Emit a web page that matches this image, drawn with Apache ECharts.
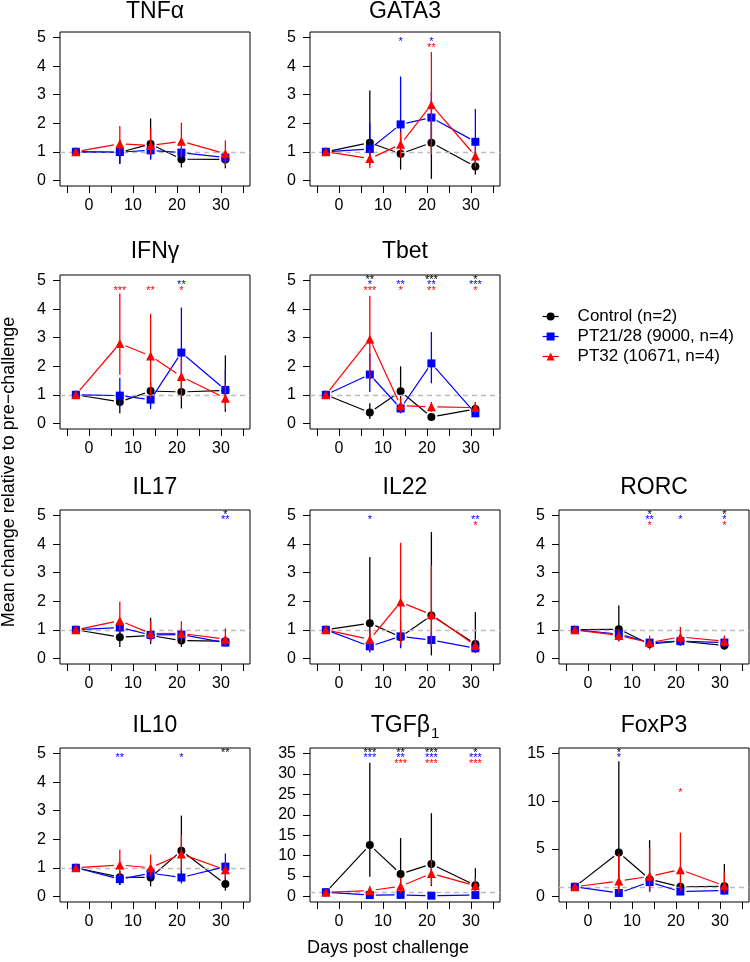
<!DOCTYPE html>
<html><head><meta charset="utf-8">
<script src="https://cdn.jsdelivr.net/npm/echarts@6/dist/echarts.min.js"></script>
<style>html,body{margin:0;padding:0;background:#fff}#c{width:750px;height:962px}</style>
</head><body><div id="c"></div>
<script>
// ---------------- DATA ----------------
const days = [-3, 7, 14, 21, 31];
const xTicks = [-5, 0, 5, 10, 15, 20, 25, 30, 35];
const xLabels = [0, 10, 20, 30];
const yTicks5 = [0, 1, 2, 3, 4, 5];
const yTicksTGF = [0, 5, 10, 15, 20, 25, 30, 35];
const yTicksFox = [0, 5, 10, 15];
const groupNames = ['Control (n=2)', 'PT21/28 (9000, n=4)', 'PT32 (10671, n=4)'];
const panelNames = ['TNFα', 'GATA3', 'IFNγ', 'Tbet', 'IL17', 'IL22', 'RORC', 'IL10', 'TGFβ1', 'FoxP3'];
const refLevel = 1;

// [mean, lower, upper] at each day
const TNFa_ctrl   = [[1,1,1],[0.98,0.57,1.40],[1.27,0.75,2.17],[0.74,0.45,1.02],[0.73,0.42,1.00]];
const TNFa_pt2128 = [[1,1,1],[0.99,0.60,1.35],[1.05,0.72,1.38],[0.97,0.75,1.20],[0.80,0.60,1.00]];
const TNFa_pt32   = [[1,1,1],[1.28,0.90,1.90],[1.22,0.90,1.80],[1.37,0.80,2.02],[0.93,0.50,1.40]];

const GATA3_ctrl   = [[1,1,1],[1.32,0.55,3.15],[0.93,0.37,1.50],[1.32,0.05,2.30],[0.48,0.20,0.80]];
const GATA3_pt2128 = [[1,1,1],[1.10,0.80,2.00],[1.96,0.90,3.64],[2.20,1.30,3.10],[1.35,0.60,2.50]];
const GATA3_pt32   = [[1,1,1],[0.76,0.42,1.05],[1.26,0.80,1.70],[2.65,0.90,4.50],[0.85,0.45,1.20]];

const IFNg_ctrl   = [[1,1,1],[0.75,0.35,1.00],[1.13,0.85,1.42],[1.10,0.52,1.60],[1.15,0.40,2.38]];
const IFNg_pt2128 = [[1,1,1],[0.97,0.60,1.60],[0.83,0.50,1.10],[2.48,1.50,4.06],[1.17,0.90,1.90]];
const IFNg_pt32   = [[1,1,1],[2.80,1.70,4.55],[2.36,0.90,3.84],[1.64,0.90,2.30],[0.88,0.50,1.40]];

const Tbet_ctrl   = [[1,1,1],[0.38,0.15,0.70],[1.12,0.50,2.00],[0.22,0.10,0.35],[0.50,0.30,0.70]];
const Tbet_pt2128 = [[1,1,1],[1.71,1.10,2.45],[0.52,0.35,0.70],[2.10,1.40,3.20],[0.35,0.25,0.50]];
const Tbet_pt32   = [[1,1,1],[2.95,1.50,4.47],[0.62,0.40,0.90],[0.58,0.40,0.75],[0.55,0.35,0.75]];

const IL17_ctrl   = [[1,1,1],[0.74,0.40,1.00],[0.80,0.50,1.42],[0.62,0.40,0.85],[0.60,0.45,0.75]];
const IL17_pt2128 = [[1,1,1],[1.08,0.80,1.35],[0.82,0.60,1.05],[0.83,0.60,1.05],[0.55,0.40,0.70]];
const IL17_pt32   = [[1,1,1],[1.32,0.90,1.98],[0.87,0.60,1.30],[0.87,0.55,1.30],[0.67,0.40,1.05]];

const IL22_ctrl   = [[1,1,1],[1.23,0.50,3.55],[0.75,0.40,1.00],[1.50,0.10,4.43],[0.50,0.20,1.62]];
const IL22_pt2128 = [[1,1,1],[0.42,0.20,0.65],[0.77,0.35,1.30],[0.64,0.40,0.90],[0.35,0.20,0.50]];
const IL22_pt32   = [[1,1,1],[0.66,0.30,1.00],[1.97,0.50,4.05],[1.53,0.40,3.27],[0.45,0.25,0.70]];

const RORC_ctrl   = [[1,1,1],[1.02,0.60,1.85],[0.50,0.35,0.65],[0.60,0.45,0.75],[0.45,0.30,0.60]];
const RORC_pt2128 = [[1,1,1],[0.85,0.70,1.00],[0.55,0.40,0.70],[0.60,0.45,0.80],[0.55,0.40,0.70]];
const RORC_pt32   = [[1,1,1],[0.80,0.60,1.00],[0.55,0.30,0.80],[0.75,0.50,1.10],[0.60,0.40,0.80]];

const IL10_ctrl   = [[1,1,1],[0.67,0.40,0.90],[0.66,0.35,0.90],[1.60,0.80,2.83],[0.43,0.20,0.65]];
const IL10_pt2128 = [[1,0.88,1.12],[0.60,0.40,0.80],[0.81,0.60,1.00],[0.66,0.45,0.95],[1.04,0.60,1.50]];
const IL10_pt32   = [[1,1,1],[1.10,0.70,1.63],[1.00,0.70,1.47],[1.48,0.90,2.15],[0.93,0.60,1.20]];

const TGFb1_ctrl   = [[1,1,1],[12.6,4.8,32.8],[5.5,1.5,14.3],[7.9,2.5,20.4],[2.7,0.5,6.9]];
const TGFb1_pt2128 = [[1,1,1],[0.3,0.1,0.6],[0.35,0.1,0.7],[0.15,0.05,0.3],[0.3,0.1,0.5]];
const TGFb1_pt32   = [[1,1,1],[1.4,0.5,2.5],[2.45,0.8,4.5],[5.6,2.8,9.0],[2.6,1.0,4.5]];

const FoxP3_ctrl   = [[1,1,1],[4.6,0.1,14.2],[1.8,0.5,5.9],[1.0,0.5,1.5],[1.05,0.3,3.4]];
const FoxP3_pt2128 = [[1,1,1],[0.35,0.1,0.6],[1.5,0.5,2.5],[0.5,0.2,0.8],[0.6,0.2,1.0]];
const FoxP3_pt32   = [[1,1,1],[1.6,0.3,4.5],[2.1,0.5,5.1],[2.8,0.6,6.7],[1.1,0.4,2.5]];

// significance stars: [day, group(0 ctrl,1 PT21/28,2 PT32), text, optional explicit y]
const TNFa_stars = [];
const GATA3_stars = [[14,1,'*'],[21,1,'*'],[21,2,'**']];
const IFNg_stars = [[7,2,'***'],[14,2,'**'],[21,1,'**'],[21,2,'*']];
const Tbet_stars = [[7,0,'**'],[7,1,'*'],[7,2,'***'],[14,1,'**'],[14,2,'*'],[21,0,'***'],[21,1,'**'],[21,2,'**'],[31,0,'*'],[31,1,'***'],[31,2,'*']];
const IL17_stars = [[31,0,'*'],[31,1,'**']];
const IL22_stars = [[7,1,'*'],[31,1,'**'],[31,2,'*']];
const RORC_stars = [[14,0,'*'],[14,1,'**'],[14,2,'*'],[21,1,'*'],[31,0,'*'],[31,1,'*'],[31,2,'*']];
const IL10_stars = [[7,1,'**'],[21,1,'*'],[31,0,'**']];
const TGFb1_stars = [[7,0,'***'],[7,1,'***'],[14,0,'**'],[14,1,'**'],[14,2,'***'],[21,0,'***'],[21,1,'***'],[21,2,'***'],[31,0,'*'],[31,1,'***'],[31,2,'***']];
const FoxP3_stars = [[7,0,'*'],[7,1,'*'],[21,2,'*',11.2]];

// ---------------- BUILD ----------------
const panelSeries = [
  [TNFa_ctrl, TNFa_pt2128, TNFa_pt32, TNFa_stars, yTicks5],
  [GATA3_ctrl, GATA3_pt2128, GATA3_pt32, GATA3_stars, yTicks5],
  [IFNg_ctrl, IFNg_pt2128, IFNg_pt32, IFNg_stars, yTicks5],
  [Tbet_ctrl, Tbet_pt2128, Tbet_pt32, Tbet_stars, yTicks5],
  [IL17_ctrl, IL17_pt2128, IL17_pt32, IL17_stars, yTicks5],
  [IL22_ctrl, IL22_pt2128, IL22_pt32, IL22_stars, yTicks5],
  [RORC_ctrl, RORC_pt2128, RORC_pt32, RORC_stars, yTicks5],
  [IL10_ctrl, IL10_pt2128, IL10_pt32, IL10_stars, yTicks5],
  [TGFb1_ctrl, TGFb1_pt2128, TGFb1_pt32, TGFb1_stars, yTicksTGF],
  [FoxP3_ctrl, FoxP3_pt2128, FoxP3_pt32, FoxP3_stars, yTicksFox]
];

const FONT = '"Liberation Sans", Arial, Helvetica, sans-serif';
const colors = ['#000000', '#0000ff', '#ff0000'];
const symbols = ['circle', 'rect', 'triangle'];
const symSizes = [8, 8, 9];
const starFactor = [1.024, 0.988, 0.946];
const GAP = 6; // R type="b" gap around points

const colLeft = [60, 310, 559];
const rowTop = [32, 275, 510, 748];
const titleY = [12, 252, 488, 726];
const boxW = 190, boxH = 154;
const cellPos = [[0,0],[0,1],[1,0],[1,1],[2,0],[2,1],[2,2],[3,0],[3,1],[3,2]];

const grids = [], xAxes = [], yAxes = [], series = [], graphics = [];

panelSeries.forEach((p, i) => {
  const [r, c] = cellPos[i];
  const yT = p[4];
  const ymax = yT[yT.length - 1];
  grids.push({left: colLeft[c], top: rowTop[r], width: boxW, height: boxH,
    show: true, borderColor: '#000', borderWidth: 1, backgroundColor: 'transparent', containLabel: false});
  xAxes.push({type: 'value', gridIndex: i, min: -6.6, max: 36.6, position: 'bottom',
    axisLine: {show: false, onZero: false}, splitLine: {show: false},
    axisTick: {show: true, inside: false, customValues: xTicks, length: 7, lineStyle: {color: '#000', width: 1}},
    axisLabel: {show: true, customValues: xLabels, margin: 12, fontSize: 16, color: '#000', fontFamily: FONT}});
  yAxes.push({type: 'value', gridIndex: i, min: -0.04 * ymax, max: 1.04 * ymax, position: 'left',
    axisLine: {show: false, onZero: false}, splitLine: {show: false},
    axisTick: {show: true, inside: false, customValues: yT, length: 7, lineStyle: {color: '#000', width: 1}},
    axisLabel: {show: true, customValues: yT, margin: 14, fontSize: 16, color: '#000', fontFamily: FONT}});

  // reference dashed line at 1
  series.push({type: 'line', xAxisIndex: i, yAxisIndex: i, data: [[days[0], refLevel]],
    symbol: 'none', lineStyle: {opacity: 0}, silent: true, z: 1, animation: false,
    markLine: {silent: true, symbol: 'none', label: {show: false}, animation: false,
      lineStyle: {color: '#bdbdbd', type: [5, 4], width: 1.3}, data: [{yAxis: refLevel}]}});

  for (let g = 0; g < 3; g++) {
    const arr = p[g];
    const col = colors[g];
    // error bars
    series.push({type: 'custom', xAxisIndex: i, yAxisIndex: i, silent: true, z: 2 + g * 3, animation: false,
      data: arr.map((t, j) => [days[j], t[1], t[2]]),
      encode: {x: 0, y: [1, 2]},
      renderItem: (params, api) => {
        const a = api.coord([api.value(0), api.value(1)]);
        const b = api.coord([api.value(0), api.value(2)]);
        return {type: 'line', shape: {x1: a[0], y1: a[1], x2: b[0], y2: b[1]},
          style: {stroke: col, lineWidth: 1.3}};
      }});
    // connecting segments with gaps at the points
    series.push({type: 'custom', xAxisIndex: i, yAxisIndex: i, silent: true, z: 3 + g * 3, animation: false,
      data: arr.slice(0, -1).map((t, j) => [days[j], t[0], days[j + 1], arr[j + 1][0]]),
      encode: {x: [0, 2], y: [1, 3]},
      renderItem: (params, api) => {
        const a = api.coord([api.value(0), api.value(1)]);
        const b = api.coord([api.value(2), api.value(3)]);
        const dx = b[0] - a[0], dy = b[1] - a[1];
        const len = Math.sqrt(dx * dx + dy * dy);
        if (len <= 2 * GAP) return null;
        const ux = dx / len, uy = dy / len;
        return {type: 'line', shape: {x1: a[0] + ux * GAP, y1: a[1] + uy * GAP,
          x2: b[0] - ux * GAP, y2: b[1] - uy * GAP},
          style: {stroke: col, lineWidth: 1.2}};
      }});
    // points
    series.push({type: 'line', name: groupNames[g], xAxisIndex: i, yAxisIndex: i, z: 4 + g * 3,
      data: arr.map((t, j) => [days[j], t[0]]),
      symbol: symbols[g], symbolSize: symSizes[g], showSymbol: true, animation: false,
      itemStyle: {color: col}, lineStyle: {color: col, width: 1.2, opacity: 0}, emphasis: {disabled: true}});
  }
  const st = p[3];
  if (st.length) {
    series.push({type: 'custom', xAxisIndex: i, yAxisIndex: i, silent: true, z: 20, animation: false,
      data: st.map(s => [s[0], s.length > 3 ? s[3] : ymax * starFactor[s[1]]]),
      renderItem: (params, api) => {
        const s = st[params.dataIndex];
        const pt = api.coord([api.value(0), api.value(1)]);
        return {type: 'text', x: pt[0], y: pt[1] + 3,
          style: {text: s[2], fill: colors[s[1]], fontSize: 11, fontFamily: FONT,
            align: 'center', verticalAlign: 'middle'}};
      }});
  }

  // panel title
  const name = panelNames[i];
  const isTGF = name === 'TGFβ1';
  graphics.push({type: 'text', x: colLeft[c] + boxW / 2, y: titleY[r], silent: true,
    style: {text: isTGF ? 'TGFβ{s|1}' : name, fill: '#000', font: '23px ' + FONT,
      align: 'center', verticalAlign: 'middle',
      rich: isTGF ? {s: {fontSize: 15, fontFamily: FONT, verticalAlign: 'bottom', padding: [0, 0, -4, 1]}} : undefined}});
});

graphics.push({type: 'text', x: 9, y: 472, rotation: Math.PI / 2, silent: true,
  style: {text: 'Mean change relative to pre\u2212challenge', fill: '#000', font: '18px ' + FONT,
    align: 'center', verticalAlign: 'middle'}});
graphics.push({type: 'text', x: 388, y: 948, silent: true,
  style: {text: 'Days post challenge', fill: '#000', font: '18px ' + FONT,
    align: 'center', verticalAlign: 'middle'}});

const chart = echarts.init(document.getElementById('c'), null, {renderer: 'canvas'});
chart.setOption({
  animation: false,
  backgroundColor: '#ffffff',
  grid: grids, xAxis: xAxes, yAxis: yAxes, series: series,
  legend: {show: true, orient: 'vertical', left: 537, top: 303,
    data: groupNames.map((n, g) => ({name: n, lineStyle: {color: colors[g], width: 1.2, opacity: 1}})),
    itemWidth: 16, itemHeight: 10, itemGap: 3, selectedMode: false,
    textStyle: {fontSize: 17, fontFamily: FONT, color: '#000', padding: [0, 0, 0, 14]}},
  graphic: graphics
});
</script></body></html>
